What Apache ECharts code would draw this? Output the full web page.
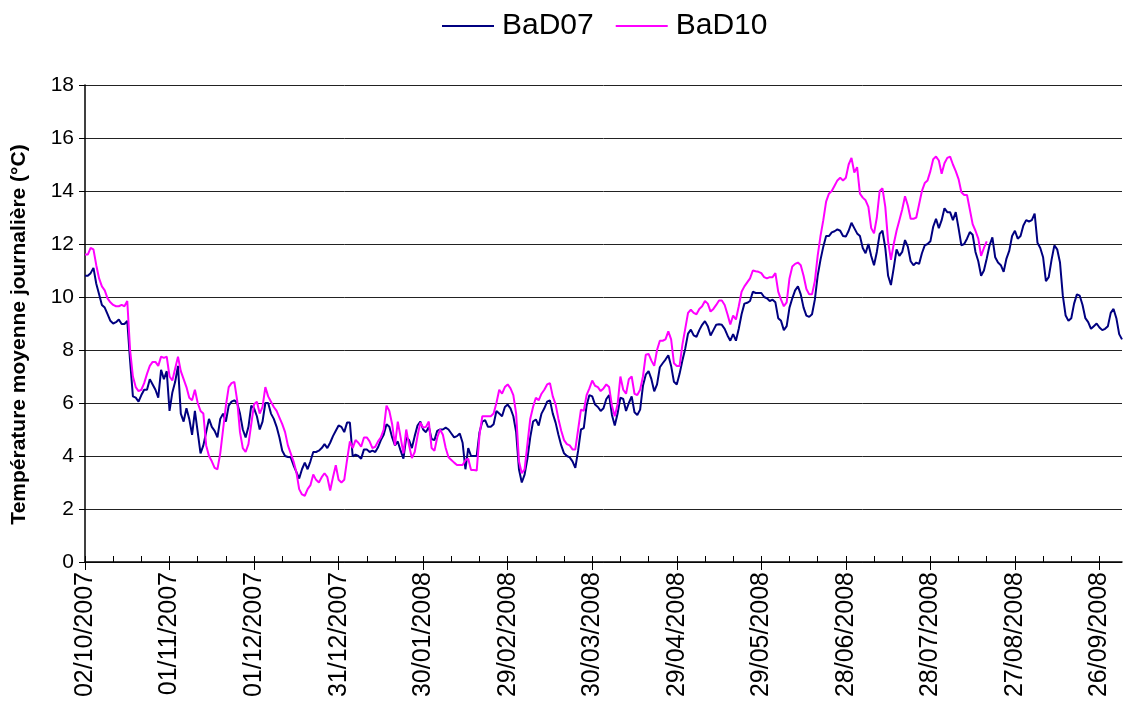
<!DOCTYPE html>
<html><head><meta charset="utf-8">
<script src="https://cdn.jsdelivr.net/npm/echarts@6/dist/echarts.min.js"></script>
<style>html,body{margin:0;padding:0;background:#fff}#c{width:1123px;height:706px}</style>
</head><body><div id="c"></div>
<script>
// ---- data ----
const startYear = 2007, startMonth = 10, startDay = 2;   // 02/10/2007
const dayCount = 369;                                     // daily categories
const seriesNames = ['BaD07', 'BaD10'];
const yMin = 0, yMax = 18, yStep = 2;
const axisTitle = 'Température moyenne journalière (°C)';

const bad07 = [
 10.8,10.8,10.9,11.1,10.5,10.1,9.7,9.6,9.35,9.1,
 9.0,9.05,9.15,8.98,8.98,9.1,7.6,6.25,6.2,6.05,
 6.3,6.5,6.5,6.9,6.7,6.5,6.2,7.25,6.9,7.2,
 5.7,6.4,6.8,7.4,5.6,5.3,5.8,5.4,4.8,5.7,
 4.9,4.1,4.4,4.9,5.4,5.1,4.95,4.7,5.4,5.6,
 5.3,5.9,6.05,6.1,6.0,5.6,5.0,4.7,5.1,5.9,
 5.8,5.5,5.0,5.3,6.0,6.0,5.6,5.4,5.1,4.7,
 4.2,4.0,3.96,3.95,3.65,3.4,3.15,3.5,3.75,3.5,
 3.8,4.15,4.15,4.2,4.3,4.45,4.3,4.5,4.75,4.95,
 5.15,5.1,4.9,5.26,5.26,3.98,4.05,4.0,3.9,4.25,
 4.25,4.15,4.2,4.15,4.33,4.6,4.8,5.2,5.1,4.7,
 4.4,4.55,4.2,3.9,4.7,4.6,4.3,4.75,5.15,5.3,
 5.0,4.9,5.1,4.64,4.6,4.95,5.0,5.0,5.07,5.0,
 4.85,4.7,4.75,4.85,4.5,3.5,4.3,4.0,4.0,4.0,
 4.9,5.3,5.35,5.1,5.1,5.2,5.7,5.6,5.5,5.85,
 5.94,5.8,5.5,4.9,3.5,3.0,3.3,3.9,4.7,5.3,
 5.38,5.15,5.6,5.8,6.05,6.1,5.6,5.26,4.8,4.4,
 4.1,4.0,3.95,3.8,3.55,4.2,5.0,5.05,5.9,6.3,
 6.25,5.94,5.85,5.7,5.8,6.15,6.3,5.55,5.15,5.6,
 6.2,6.15,5.7,6.0,6.25,5.65,5.55,5.75,6.65,7.07,
 7.2,6.9,6.44,6.7,7.35,7.5,7.64,7.8,7.4,6.8,
 6.7,7.1,7.6,8.05,8.62,8.77,8.55,8.5,8.75,8.95,
 9.09,8.9,8.55,8.75,8.95,8.97,8.95,8.8,8.55,8.35,
 8.6,8.35,8.8,9.35,9.75,9.78,9.85,10.2,10.15,10.15,
 10.15,10.0,9.95,9.85,9.9,9.8,9.2,9.1,8.75,8.9,
 9.6,9.95,10.25,10.4,10.1,9.6,9.3,9.25,9.35,9.9,
 10.8,11.4,11.9,12.3,12.3,12.44,12.48,12.55,12.5,12.3,
 12.28,12.5,12.8,12.6,12.4,12.3,11.85,11.65,12.0,11.55,
 11.2,11.7,12.38,12.5,11.85,10.8,10.45,11.1,11.8,11.55,
 11.7,12.15,11.9,11.35,11.2,11.3,11.25,11.65,11.95,12.0,
 12.1,12.65,12.95,12.6,12.9,13.35,13.2,13.2,12.9,13.2,
 12.6,11.95,12.0,12.2,12.45,12.35,11.7,11.35,10.8,11.0,
 11.45,11.95,12.25,11.5,11.3,11.2,10.95,11.45,11.75,12.3,
 12.5,12.2,12.3,12.7,12.9,12.85,12.9,13.15,12.05,11.85,
 11.5,10.6,10.75,11.4,11.95,11.8,11.3,10.05,9.3,9.1,
 9.2,9.75,10.1,10.05,9.7,9.2,9.05,8.8,8.9,9.0,
 8.85,8.75,8.8,8.9,9.4,9.55,9.2,8.6,8.4
];

const bad10 = [
 11.6,11.6,11.85,11.8,11.2,10.7,10.4,10.25,9.95,9.8,
 9.7,9.65,9.65,9.7,9.65,9.85,8.0,7.0,6.6,6.45,
 6.5,6.75,7.1,7.4,7.55,7.55,7.4,7.75,7.7,7.75,
 7.0,6.85,7.3,7.75,7.2,6.9,6.6,6.2,6.1,6.5,
 6.0,5.7,5.6,4.4,4.0,3.8,3.55,3.5,4.1,5.0,
 5.9,6.6,6.75,6.8,6.1,4.9,4.3,4.15,4.45,5.2,
 5.95,6.05,5.6,5.85,6.6,6.25,6.05,5.85,5.7,5.45,
 5.2,4.9,4.4,4.1,3.8,3.4,2.75,2.55,2.5,2.75,
 2.9,3.3,3.1,3.0,3.2,3.35,3.2,2.7,3.2,3.65,
 3.1,3.0,3.1,3.85,4.55,4.3,4.6,4.5,4.35,4.7,
 4.7,4.55,4.3,4.35,4.55,4.7,5.0,5.9,5.7,5.2,
 4.4,5.3,4.7,4.1,5.0,4.4,3.92,4.15,4.75,5.26,
 5.07,5.1,5.3,4.3,4.2,4.7,5.0,4.8,4.3,3.95,
 3.85,3.75,3.66,3.66,3.66,3.84,3.9,3.47,3.47,3.45,
 4.8,5.5,5.5,5.5,5.5,5.6,6.0,6.5,6.35,6.6,
 6.7,6.55,6.3,5.6,3.8,3.35,3.5,4.45,5.4,5.85,
 6.2,6.1,6.35,6.5,6.7,6.75,6.25,5.95,5.4,4.95,
 4.6,4.45,4.4,4.25,4.25,5.0,5.75,5.7,6.3,6.55,
 6.85,6.65,6.6,6.45,6.55,6.7,6.6,5.9,5.5,5.95,
 7.0,6.5,6.35,6.9,7.0,6.35,6.3,6.5,7.0,7.82,
 7.85,7.6,7.4,8.0,8.35,8.35,8.4,8.7,8.4,7.5,
 7.4,7.4,8.2,8.8,9.4,9.52,9.4,9.35,9.55,9.65,
 9.85,9.75,9.45,9.55,9.7,9.87,9.87,9.7,9.35,8.96,
 9.3,9.15,9.65,10.2,10.4,10.55,10.7,11.0,10.97,10.95,
 10.9,10.75,10.7,10.75,10.75,10.9,10.2,9.9,9.65,9.8,
 10.7,11.15,11.25,11.3,11.2,10.8,10.3,10.1,10.1,10.6,
 11.55,12.3,12.9,13.6,13.9,14.0,14.2,14.4,14.5,14.4,
 14.5,15.0,15.25,14.7,14.9,13.9,13.75,13.65,13.4,12.6,
 12.4,13.0,14.0,14.1,13.4,12.1,11.4,12.0,12.5,12.9,
 13.3,13.8,13.45,12.95,12.95,13.0,13.5,14.0,14.3,14.4,
 14.75,15.2,15.3,15.15,14.65,15.05,15.25,15.3,15.0,14.75,
 14.45,13.95,13.85,13.85,13.3,12.75,12.5,12.2,11.55,11.85,
 12.1
];

// ---- categories (one per day) ----
function pad(n){ return (n < 10 ? '0' : '') + n; }
const dates = [];
for (let i = 0; i < dayCount; i++) {
  const d = new Date(Date.UTC(startYear, startMonth - 1, startDay + i));
  dates.push(pad(d.getUTCDate()) + '/' + pad(d.getUTCMonth() + 1) + '/' + d.getUTCFullYear());
}

const font = '"Liberation Sans", Arial, sans-serif';
const chart = echarts.init(document.getElementById('c'), null, {renderer: 'canvas'});
chart.setOption({
  animation: false,
  backgroundColor: '#fff',
  legend: {
    top: 6, left: 437, icon: 'rect', itemWidth: 52, itemHeight: 2, itemGap: 22,
    data: seriesNames,
    textStyle: {fontSize: 30, fontFamily: font, color: '#000', padding: [0, 0, 0, 3]}
  },
  grid: {left: 85, right: 1, top: 85, bottom: 144},
  xAxis: [
    {
      type: 'category', data: dates, boundaryGap: false,
      axisLine: {lineStyle: {color: '#000', width: 1.5}},
      axisTick: {interval: 9, inside: true, length: 6, lineStyle: {color: '#000', width: 1}},
      axisLabel: {interval: 29, rotate: 90, fontSize: 25, margin: 10, color: '#000', fontFamily: font},
      splitLine: {show: false}
    },
    {
      type: 'category', data: dates, boundaryGap: false, position: 'bottom',
      axisLine: {show: false},
      axisTick: {interval: 29, inside: false, length: 8, lineStyle: {color: '#000', width: 1}},
      axisLabel: {show: false},
      splitLine: {show: false}
    }
  ],
  yAxis: {
    type: 'value', min: yMin, max: yMax, interval: yStep,
    name: axisTitle, nameLocation: 'middle', nameGap: 55,
    nameTextStyle: {fontSize: 21, fontWeight: 'bold', fontFamily: font, color: '#000', padding: [0, 22, 0, 0]},
    axisLine: {show: true, lineStyle: {color: '#000', width: 1.5}},
    axisTick: {show: true, length: 6, lineStyle: {color: '#000'}},
    axisLabel: {fontSize: 21, margin: 11, color: '#000', fontFamily: font},
    splitLine: {lineStyle: {color: '#222', width: 1}}
  },
  series: [
    {name: seriesNames[0], type: 'line', data: bad07, symbol: 'none', showSymbol: false,
     lineStyle: {color: '#000080', width: 2}, itemStyle: {color: '#000080'}},
    {name: seriesNames[1], type: 'line', data: bad10, symbol: 'none', showSymbol: false,
     lineStyle: {color: '#ff00ff', width: 2}, itemStyle: {color: '#ff00ff'}}
  ]
});
</script>
</body></html>
